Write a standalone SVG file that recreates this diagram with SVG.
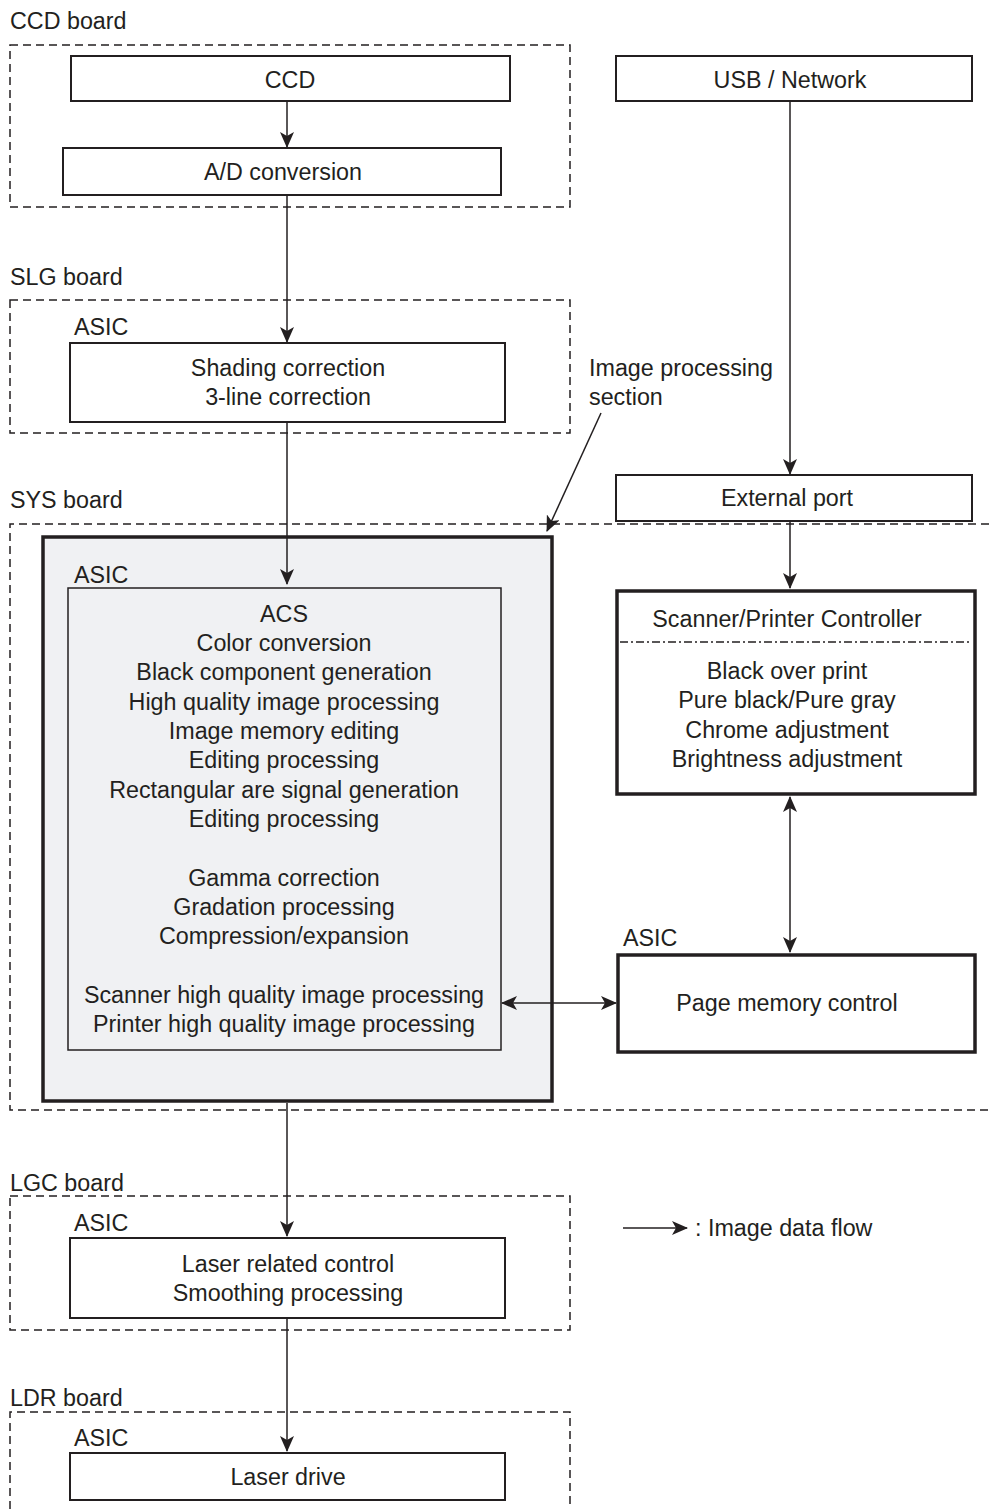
<svg xmlns="http://www.w3.org/2000/svg" width="989" height="1509" viewBox="0 0 989 1509">
<style>
text{font-family:"Liberation Sans",Arial,sans-serif;font-size:23.3px;fill:#231f20}
.c{text-anchor:middle}
.dash{fill:none;stroke:#231f20;stroke-width:1.5;stroke-dasharray:8 5}
.box{fill:#fff;stroke:#231f20;stroke-width:2}
.thick{fill:#fff;stroke:#231f20;stroke-width:3.5}
.ln{fill:none;stroke:#231f20;stroke-width:1.5}
</style>
<defs>
<marker id="ah" markerUnits="userSpaceOnUse" markerWidth="16" markerHeight="14" viewBox="0 0 16 14" refX="15" refY="7" orient="auto-start-reverse">
<path d="M0,0 L16,7 L0,14 L4,7 Z" fill="#231f20"/>
</marker>
</defs>

<g id="ccd-board">
<text x="10" y="29">CCD board</text>
<rect class="dash" x="10" y="45" width="560" height="162"/>
</g>
<g id="ccd"><rect class="box" x="71" y="56" width="439" height="45"/><text class="c" x="290" y="88">CCD</text></g>
<g id="ad"><rect class="box" x="63" y="148" width="438" height="47"/><text class="c" x="283" y="180">A/D conversion</text></g>
<g id="usb"><rect class="box" x="616" y="56" width="356" height="45"/><text class="c" x="790" y="88">USB / Network</text></g>

<g id="slg-board">
<text x="10" y="285">SLG board</text>
<rect class="dash" x="10" y="300" width="560" height="133"/>
<text x="74" y="335">ASIC</text>
</g>
<g id="shading"><rect class="box" x="70" y="343" width="435" height="79"/>
<text class="c" x="288" y="376">Shading correction</text><text class="c" x="288" y="405">3-line correction</text></g>

<g id="ips-label"><text x="589" y="376">Image processing</text><text x="589" y="405">section</text></g>

<g id="ext"><rect class="box" x="616" y="475" width="356" height="46"/><text class="c" x="787" y="506">External port</text></g>

<g id="sys-board">
<text x="10" y="508">SYS board</text>
<path class="dash" d="M989,524 H10 V1110 H989"/>
</g>

<g id="ips">
<rect x="43" y="537" width="509" height="564" fill="#f0f1f3" stroke="#231f20" stroke-width="3.5"/>
<text x="74" y="583">ASIC</text>
<rect x="68" y="588" width="433" height="462" fill="#f0f1f3" stroke="#231f20" stroke-width="1.5"/>
<text class="c" x="284" y="622">ACS</text>
<text class="c" x="284" y="651">Color conversion</text>
<text class="c" x="284" y="680">Black component generation</text>
<text class="c" x="284" y="710">High quality image processing</text>
<text class="c" x="284" y="739">Image memory editing</text>
<text class="c" x="284" y="768">Editing processing</text>
<text class="c" x="284" y="798">Rectangular are signal generation</text>
<text class="c" x="284" y="827">Editing processing</text>
<text class="c" x="284" y="886">Gamma correction</text>
<text class="c" x="284" y="915">Gradation processing</text>
<text class="c" x="284" y="944">Compression/expansion</text>
<text class="c" x="284" y="1003">Scanner high quality image processing</text>
<text class="c" x="284" y="1032">Printer high quality image processing</text>
</g>

<g id="spc">
<rect class="thick" x="617" y="591" width="358" height="203"/>
<text class="c" x="787" y="627">Scanner/Printer Controller</text>
<line x1="620" y1="642" x2="972" y2="642" stroke="#231f20" stroke-width="1.3" stroke-dasharray="8 3 2 3"/>
<text class="c" x="787" y="679">Black over print</text>
<text class="c" x="787" y="708">Pure black/Pure gray</text>
<text class="c" x="787" y="738">Chrome adjustment</text>
<text class="c" x="787" y="767">Brightness adjustment</text>
</g>

<g id="pmc">
<text x="623" y="946">ASIC</text>
<rect class="thick" x="618" y="955" width="357" height="97"/>
<text class="c" x="787" y="1011">Page memory control</text>
</g>

<g id="lgc-board">
<text x="10" y="1191">LGC board</text>
<rect class="dash" x="10" y="1196" width="560" height="134"/>
<text x="74" y="1231">ASIC</text>
</g>
<g id="laser-ctrl"><rect class="box" x="70" y="1238" width="435" height="80"/>
<text class="c" x="288" y="1272">Laser related control</text><text class="c" x="288" y="1301">Smoothing processing</text></g>

<g id="ldr-board">
<text x="10" y="1406">LDR board</text>
<path class="dash" d="M10,1509 V1412 H570 V1509"/>
<text x="74" y="1446">ASIC</text>
</g>
<g id="laser-drive"><rect class="box" x="70" y="1453" width="435" height="47"/><text class="c" x="288" y="1485">Laser drive</text></g>

<g id="legend">
<line class="ln" x1="623" y1="1228" x2="687" y2="1228" marker-end="url(#ah)"/>
<text x="695" y="1236">: Image data flow</text>
</g>

<g id="connectors">
<line class="ln" x1="287" y1="101" x2="287" y2="147" marker-end="url(#ah)"/>
<line class="ln" x1="287" y1="195" x2="287" y2="342" marker-end="url(#ah)"/>
<line class="ln" x1="790" y1="101" x2="790" y2="474" marker-end="url(#ah)"/>
<line class="ln" x1="287" y1="422" x2="287" y2="584" marker-end="url(#ah)"/>
<line class="ln" x1="790" y1="521" x2="790" y2="588" marker-end="url(#ah)"/>
<line class="ln" x1="790" y1="797" x2="790" y2="952" marker-start="url(#ah)" marker-end="url(#ah)"/>
<line class="ln" x1="502" y1="1003" x2="616" y2="1003" marker-start="url(#ah)" marker-end="url(#ah)"/>
<line class="ln" x1="601" y1="413" x2="547" y2="531" marker-end="url(#ah)"/>
<line class="ln" x1="287" y1="1103" x2="287" y2="1236" marker-end="url(#ah)"/>
<line class="ln" x1="287" y1="1318" x2="287" y2="1451" marker-end="url(#ah)"/>
</g>
</svg>
